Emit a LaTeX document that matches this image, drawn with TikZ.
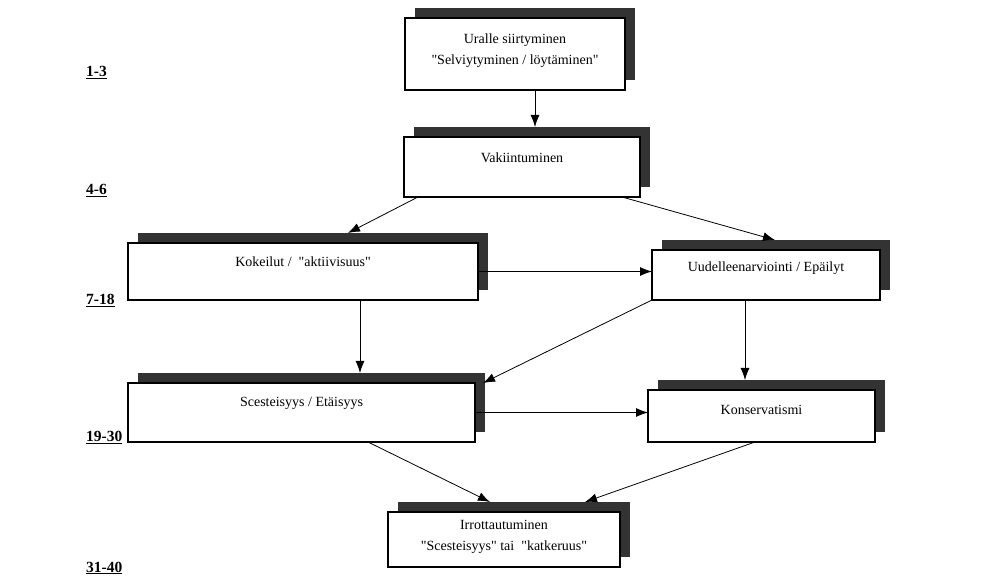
\documentclass[tikz,border=0pt]{standalone}
\usepackage{fontspec}
\setmainfont{Liberation Serif}
\usetikzlibrary{arrows.meta,calc}
\tikzset{
  boxst/.style={draw=black, line width=1.3pt, fill=white, rectangle, inner sep=0pt, outer sep=0pt, anchor=north west},
  shadowst/.style={fill=black!80, draw=none, rectangle, inner sep=0pt, outer sep=0pt, anchor=north west},
  txt/.style={font=\fontsize{14}{21}\selectfont, align=center, inner sep=0pt},
  lbl/.style={font=\fontsize{15.5}{18}\selectfont\bfseries, anchor=base west, inner sep=0pt},
  arr/.style={line width=0.8pt, -{Latex[length=12pt,width=9pt]}}
}
\newcommand\qq{\textquotedbl}
% name, x1, y1, x2, y2, text y, text
\newcommand\mkbox[7]{%
  \node[shadowst, minimum width={(#4-#2)*1pt}, minimum height={(#5-#3)*1pt}] (s#1) at (#2+10,#3-10) {};
  \node[boxst, minimum width={(#4-#2)*1pt}, minimum height={(#5-#3)*1pt}] (b#1) at (#2,#3) {};
  \node[txt] (t#1) at ({(#2+#4)/2},#6) {#7};
}
\begin{document}
\begin{tikzpicture}[x=1pt,y=-1pt]
\useasboundingbox (0,0) rectangle (997,585);
\mkbox{1}{405}{18}{625}{90}{51}{Uralle siirtyminen\\\qq Selviytyminen / löytäminen\qq}
\mkbox{2}{404}{137}{640}{197}{158}{Vakiintuminen}
\mkbox{3}{128}{243}{478}{300}{262}{Kokeilut /\ \ \qq aktiivisuus\qq}
\mkbox{4}{652}{250}{880}{300}{268}{Uudelleenarviointi / Epäilyt}
\mkbox{5}{128}{383}{475}{442}{403}{Scesteisyys / Etäisyys}
\mkbox{6}{648}{390}{875}{442}{410}{Konservatismi}
\mkbox{7}{388}{512}{620}{567}{537}{Irrottautuminen\\\qq Scesteisyys\qq\ tai\ \ \qq katkeruus\qq}

\node[lbl] (l1) at (86,77) {\underline{1-3}};
\node[lbl] (l2) at (86,195) {\underline{4-6}};
\node[lbl] (l3) at (86,305) {\underline{7-18}};
\node[lbl] (l4) at (86,442) {\underline{19-30}};
\node[lbl] (l5) at (86,572) {\underline{31-40}};

\draw[arr] ([xshift=130pt]b1.south west) -- ([xshift=130pt]b1.south west |- s2.north);
\draw[arr] ([xshift=14pt]b2.south west) -- ([xshift=210pt]s3.north west);
\draw[arr] ([xshift=-18pt]b2.south east) -- ([xshift=113pt]s4.north west);
\draw[arr] (b3.east) -- (b3.east -| b4.west);
\draw[arr] ([xshift=232pt]b3.south west) -- ([xshift=232pt]b3.south west |- s5.north);
\draw[arr] (b4.south west) -- ([xshift=8pt]b5.north east);
\draw[arr] ([xshift=93pt]b4.south west) -- ([xshift=93pt]b4.south west |- s6.north);
\draw[arr] (b5.east) -- (b5.east -| b6.west);
\draw[arr] ([xshift=240pt]b5.south west) -- ([xshift=92pt]s7.north west);
\draw[arr] ([xshift=107pt]b6.south west) -- ([xshift=187pt]s7.north west);
\end{tikzpicture}
\end{document}
